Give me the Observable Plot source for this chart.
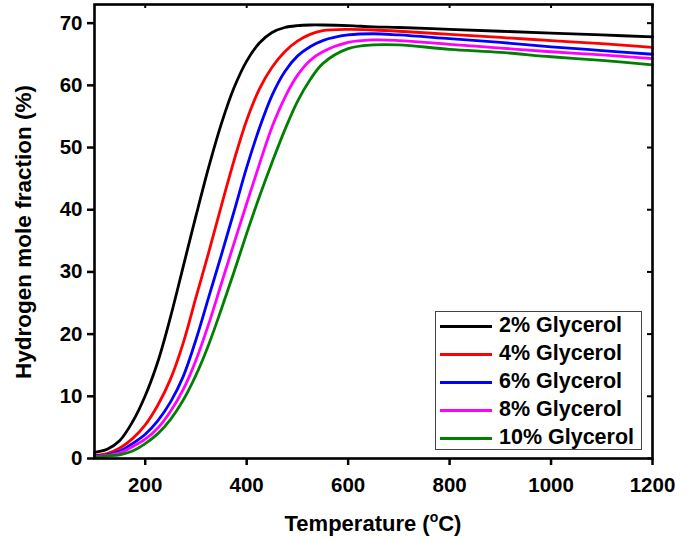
<!DOCTYPE html>
<html>
<head>
<meta charset="utf-8">
<script src="https://cdn.jsdelivr.net/npm/d3@7"></script>
<script src="https://cdn.jsdelivr.net/npm/@observablehq/plot@0.6"></script>
<style>
  body { margin: 0; background: white; }
  #wrap { position: relative; width: 692px; height: 540px; font-family: "Liberation Sans", Arial, sans-serif; }
  #legend { position: absolute; left: 435px; top: 311px; width: 207px; height: 139px; border: 1px solid #444; background: white; box-sizing: border-box; }
  .row { height: 28px; display: flex; align-items: center; }
  .sw { width: 52px; height: 3px; margin-left: 4px; margin-right: 7px; }
  .lab { font-size: 21.5px; font-weight: bold; color: black; line-height: 1; }
</style>
</head>
<body>
<div id="wrap"></div>
<script>
const temps = [100,125,150,175,200,225,250,275,300,325,350,375,400,425,450,475,500,525,550,600,650,700,800,900,1000,1100,1200];
const seriesNames = ["2% Glycerol","4% Glycerol","6% Glycerol","8% Glycerol","10% Glycerol"];
const seriesColors = ["#000000","#ff0000","#0000ff","#ff00ff","#008000"];
const g2  = [1.0,1.5,2.9,5.9,10.1,15.6,22.8,30.9,39.0,46.8,53.8,59.6,63.9,66.8,68.5,69.3,69.6,69.7,69.7,69.6,69.4,69.3,69.0,68.7,68.4,68.1,67.8];
const g4  = [0.5,0.8,1.7,3.2,5.4,8.6,12.8,18.6,25.9,33.1,40.6,47.9,54.4,59.4,62.9,65.4,67.1,68.2,68.8,69.0,68.9,68.7,68.2,67.7,67.2,66.7,66.1];
const g6  = [0.4,0.6,1.2,2.4,3.9,6.1,9.1,13.2,19.1,25.9,32.7,39.7,46.8,53.1,58.4,62.2,64.7,66.2,67.2,68.1,68.3,68.1,67.5,66.9,66.2,65.6,65.0];
const g8  = [0.3,0.5,0.9,1.9,3.1,4.9,7.6,11.1,15.8,21.6,28.1,34.6,41.0,47.3,53.3,58.0,61.6,64.0,65.4,66.9,67.3,67.2,66.6,66.0,65.4,64.9,64.3];
const g10 = [0.2,0.4,0.6,1.2,2.4,4.0,6.3,9.4,13.4,18.3,24.0,30.0,36.2,42.1,47.6,52.8,57.4,60.9,63.5,65.9,66.5,66.5,65.8,65.3,64.6,64.0,63.3];
const xTicks = [200,400,600,800,1000,1200];
const yTicks = [0,10,20,30,40,50,60,70];
const xTitle = "Temperature (";
const yTitle = "Hydrogen mole fraction (%)";

const allSeries = [g2, g4, g6, g8, g10];
const rows = [];
allSeries.forEach((vals, i) => vals.forEach((v, j) => rows.push({T: temps[j], H: v, s: seriesNames[i]})));

const svg = Plot.plot({
  width: 692, height: 540,
  marginLeft: 94, marginRight: 40, marginTop: 4, marginBottom: 82,
  style: {fontFamily: "Liberation Sans, Arial, sans-serif", fontWeight: "bold", fontSize: "20px", background: "white", color: "black"},
  x: {domain: [100, 1200]},
  y: {domain: [0, 73]},
  color: {domain: seriesNames, range: seriesColors},
  marks: [
    Plot.line(rows, {x: "T", y: "H", z: "s", stroke: "s", strokeWidth: 2.8, curve: "catmull-rom"}),
    Plot.frame({stroke: "black", strokeWidth: 2.6}),
    Plot.tickX(xTicks, {x: d => d, insetBottom: 450, strokeWidth: 2}),
    Plot.tickY(yTicks, {y: d => d, insetLeft: 553, strokeWidth: 2}),
    Plot.axisX({ticks: xTicks, tickFormat: d => String(d), tickSize: 7, tickPadding: 12, fontSize: 20.5, strokeWidth: 2.5, label: null}),
    Plot.axisY({ticks: yTicks, tickFormat: d => String(d), tickSize: 7, tickPadding: 5, fontSize: 20.5, strokeWidth: 2.5, label: null})
  ]
});

const s = d3.select(svg);
const xt = s.append("text")
  .attr("x", 373).attr("y", 531)
  .attr("text-anchor", "middle")
  .attr("font-size", 22).attr("font-weight", "bold").attr("fill", "black");
xt.append("tspan").text(xTitle);
xt.append("tspan").attr("font-size", 14).attr("dy", -9).text("o");
xt.append("tspan").attr("dy", 9).text("C)");

s.append("text")
  .attr("transform", "translate(31,232) rotate(-90)")
  .attr("text-anchor", "middle")
  .attr("font-size", 22.5).attr("font-weight", "bold").attr("fill", "black")
  .text(yTitle);

const wrap = document.getElementById("wrap");
wrap.appendChild(svg);

const legend = document.createElement("div");
legend.id = "legend";
seriesNames.forEach((name, i) => {
  const row = document.createElement("div");
  row.className = "row";
  const sw = document.createElement("div");
  sw.className = "sw";
  sw.style.background = seriesColors[i];
  const lab = document.createElement("span");
  lab.className = "lab";
  lab.textContent = name;
  row.appendChild(sw);
  row.appendChild(lab);
  legend.appendChild(row);
});
wrap.appendChild(legend);
</script>
</body>
</html>
